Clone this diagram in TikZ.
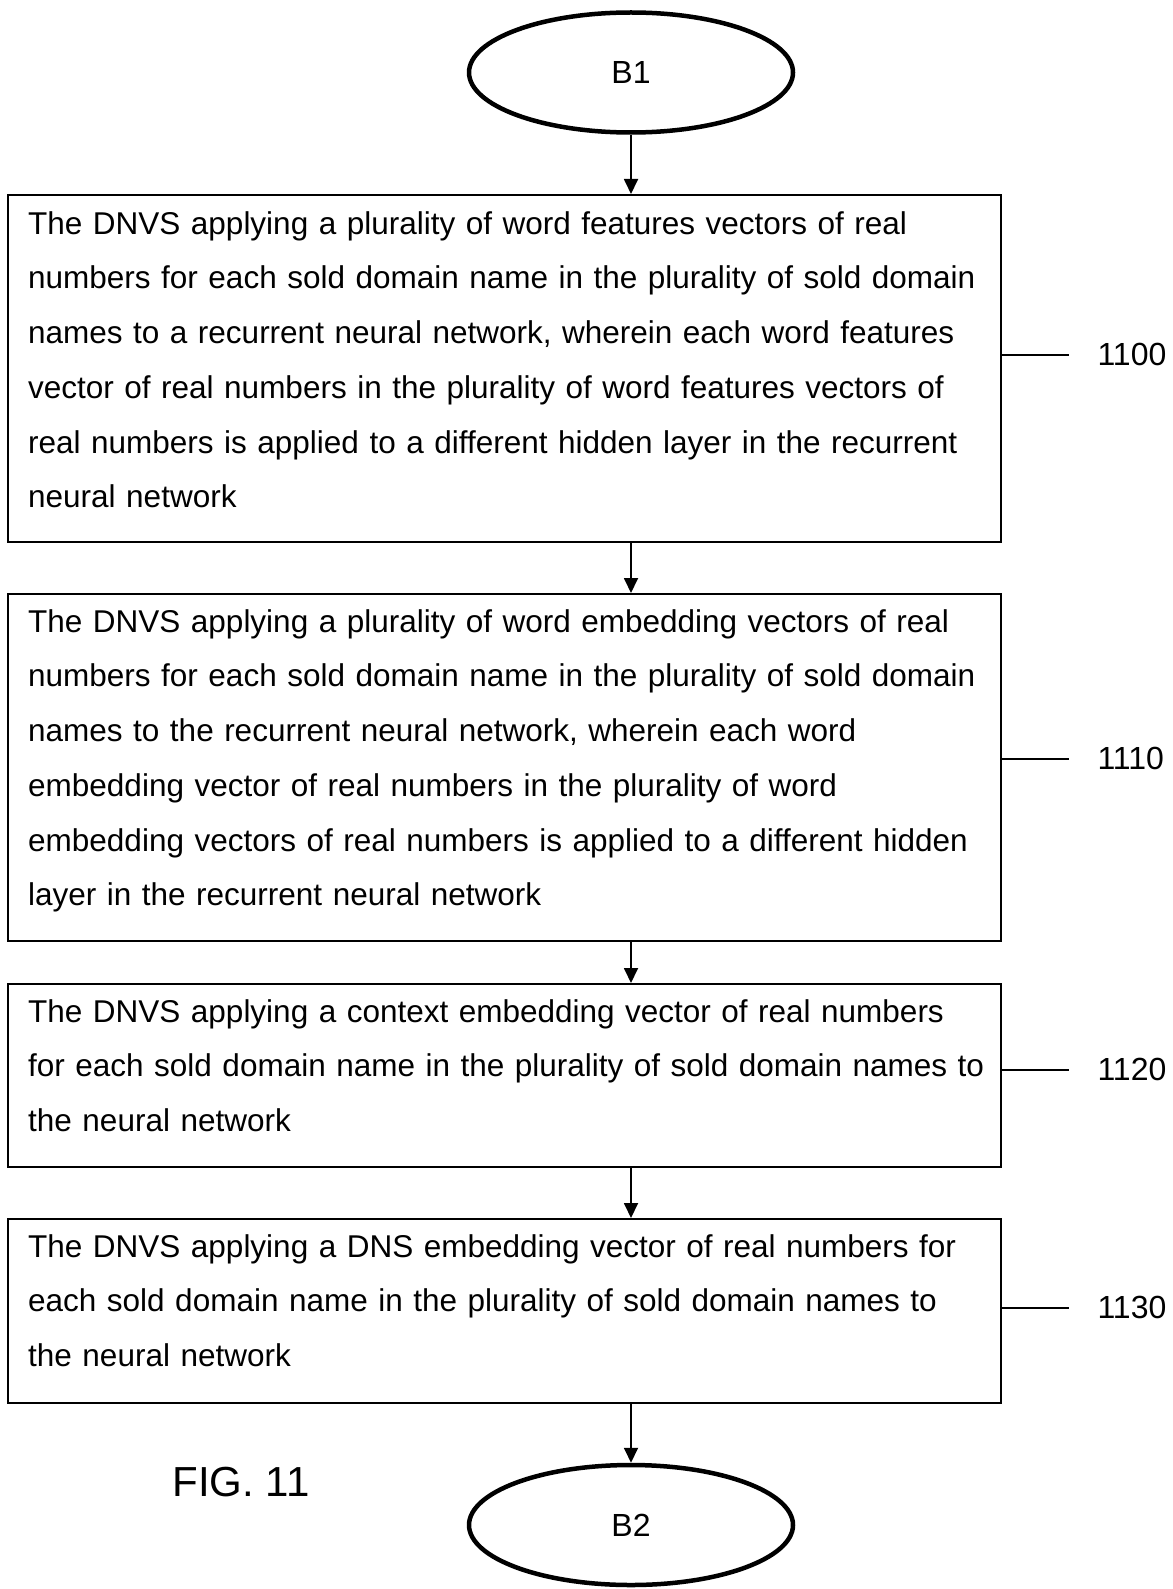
\documentclass[tikz,border=0pt]{standalone}
\usepackage{fontspec}
\setmainfont{Liberation Sans}
\usetikzlibrary{arrows.meta,shapes.geometric}
\begin{document}
\begin{tikzpicture}[x=1pt,y=-1pt,
  terminal/.style={draw, ellipse, line width=4.5pt, minimum width=324pt,
    minimum height=120pt, inner sep=0pt, font=\fontsize{32pt}{38pt}\selectfont},
  stepbox/.style={draw, rectangle, line width=1.8pt, minimum width=993pt,
    inner sep=0pt, anchor=north west},
  steptext/.style={anchor=north west, inner sep=0pt, text width=1000pt, align=left,
    font=\fontsize{31.5pt}{54.7pt}\selectfont},
  flow/.style={line width=1.8pt, -{Triangle[width=14pt,length=15pt]}},
  leader/.style={line width=1.5pt},
  refnum/.style={right, inner sep=0pt, xshift=28pt, font=\fontsize{32pt}{38pt}\selectfont}]
\useasboundingbox (0,0) rectangle (1172,1589);

% start and end connectors
\node[terminal] (b1) at (631,72.5) {B1};
\node[terminal] (b2) at (631,1525) {B2};

% process steps
\node[stepbox, minimum height=347pt] (s1) at (7,194) {};
\node[steptext] (t1) at ([xshift=21pt,yshift=-16pt]s1.north west) {\rule{0pt}{24pt}The DNVS applying a plurality of word features vectors of real\\
numbers for each sold domain name in the plurality of sold domain\\
names to a recurrent neural network, wherein each word features\\
vector of real numbers in the plurality of word features vectors of\\
real numbers is applied to a different hidden layer in the recurrent\\
neural network};

\node[stepbox, minimum height=347pt] (s2) at (7,593) {};
\node[steptext] (t2) at ([xshift=21pt,yshift=-15pt]s2.north west) {\rule{0pt}{24pt}The DNVS applying a plurality of word embedding vectors of real\\
numbers for each sold domain name in the plurality of sold domain\\
names to the recurrent neural network, wherein each word\\
embedding vector of real numbers in the plurality of word\\
embedding vectors of real numbers is applied to a different hidden\\
layer in the recurrent neural network};

\node[stepbox, minimum height=183pt] (s3) at (7,983) {};
\node[steptext] (t3) at ([xshift=21pt,yshift=-15pt]s3.north west) {\rule{0pt}{24pt}The DNVS applying a context embedding vector of real numbers\\
for each sold domain name in the plurality of sold domain names to\\
the neural network};

\node[stepbox, minimum height=184pt] (s4) at (7,1218) {};
\node[steptext] (t4) at ([xshift=21pt,yshift=-15pt]s4.north west) {\rule{0pt}{24pt}The DNVS applying a DNS embedding vector of real numbers for\\
each sold domain name in the plurality of sold domain names to\\
the neural network};

% flow arrows
\draw[flow] (b1) -- (b1 |- s1.north);
\draw[flow] (s1.south -| b1) -- (s2.north -| b1);
\draw[flow] (s2.south -| b1) -- (s3.north -| b1);
\draw[flow] (s3.south -| b1) -- (s4.north -| b1);
\draw[flow] (s4.south -| b1) -- (b2);

% reference numerals
\draw[leader] ([yshift=13.5pt]s1.east) -- ++(67,0) node[refnum] (r1) {1100};
\draw[leader] ([yshift=8.5pt]s2.east) -- ++(67,0) node[refnum] (r2) {1110};
\draw[leader] ([yshift=5.5pt]s3.east) -- ++(67,0) node[refnum] (r3) {1120};
\draw[leader] ([yshift=3pt]s4.east) -- ++(67,0) node[refnum] (r4) {1130};

\node[font=\fontsize{42pt}{50pt}\selectfont] (fig) at (241,1482) {FIG. 11};
\end{tikzpicture}
\end{document}
